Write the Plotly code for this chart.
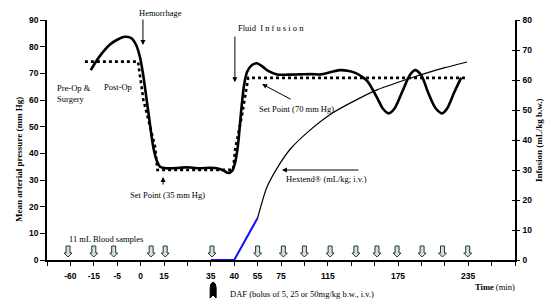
import plotly.graph_objects as go

# ---------------- data (x in tick-slot units; 21 evenly spaced ticks) ----------------
tick_slots = list(range(21))
tick_labels = ["", "-60", "-15", "-5", "0", "15", "", "35", "40", "55", "75", "",
               "115", "", "", "175", "", "", "235", "", ""]

map_x = [1.87, 2.2, 2.69, 3.0, 3.33, 3.6, 3.8, 3.97, 4.1, 4.26, 4.4, 4.54, 4.7, 4.83,
         5.1, 5.6, 6.0, 6.5, 7.0, 7.3, 7.55, 7.74, 7.92, 8.05, 8.16, 8.3, 8.42, 8.55,
         8.75, 8.97, 9.2, 9.45, 9.83, 10.3, 10.8, 11.3, 11.7, 12.1, 12.5, 12.9, 13.2,
         13.45, 13.7, 14.1, 14.35, 14.6, 14.85, 15.2, 15.5, 15.73, 16.0, 16.3, 16.6,
         16.88, 17.1, 17.4, 17.7]
map_y = [71.2, 75.8, 80.8, 82.6, 83.7, 83.2, 80.8, 76.2, 70.0, 60.0, 51.0, 42.4, 37.0, 35.0,
         34.4, 34.5, 34.8, 34.4, 34.6, 34.3, 33.5, 32.6, 33.5, 37.0, 43.0, 56.0, 65.5, 70.5,
         73.0, 73.8, 72.6, 70.9, 69.6, 69.5, 69.6, 69.7, 69.6, 70.4, 71.2, 70.9, 70.1,
         68.8, 67.0, 61.0, 56.8, 55.0, 56.8, 63.5, 69.3, 71.2, 69.2, 62.5, 57.0,
         55.0, 56.8, 62.8, 68.4]

setpoint_x = [1.62, 3.89, 4.12, 4.62, 4.72, 7.95, 8.05, 8.32, 8.6, 17.86]
setpoint_y = [74.4, 74.4, 60.0, 42.4, 33.8, 33.8, 42.0, 53.7, 68.3, 68.3]

hextend_x = [9.0, 9.4, 9.96, 10.4, 11.24, 12.2, 13.2, 14.1, 15.1, 16.0, 17.0, 17.95]
hextend_y = [14.0, 24.3, 32.2, 37.0, 43.3, 49.0, 53.3, 56.7, 59.5, 61.8, 64.1, 66.0]

daf_x = [7.0, 8.0, 9.0]
daf_y = [0.0, 0.0, 14.0]

blood_sample_slots = [0.9, 2.0, 2.85, 4.45, 5.05, 7.05, 9.0, 10.1, 11.0, 12.1,
                      13.2, 14.1, 14.96, 16.03, 16.9, 17.98]
daf_bolus_slot = [7.1]

# ---------------- figure ----------------
W, H = 546, 302
L, R, T, B = 47, 31, 20, 42

def px(x):
    return (x - L) / (W - L - R)

def py(y):
    return (H - B - y) / (H - T - B)

SERIF = "Liberation Serif, Times New Roman, serif"
SANS = "Liberation Sans, Arial, sans-serif"

fig = go.Figure()

fig.add_trace(go.Scatter(x=setpoint_x, y=setpoint_y, mode="lines",
                         line=dict(color="black", width=2.6, dash="dot"),
                         hoverinfo="skip", showlegend=False))
fig.add_trace(go.Scatter(x=map_x, y=map_y, mode="lines",
                         line=dict(color="black", width=2.6, shape="spline", smoothing=0.8),
                         hoverinfo="skip", showlegend=False))
fig.add_trace(go.Scatter(x=hextend_x, y=hextend_y, mode="lines", yaxis="y2",
                         line=dict(color="black", width=1.2, shape="spline", smoothing=0.6),
                         hoverinfo="skip", showlegend=False))
fig.add_trace(go.Scatter(x=daf_x, y=daf_y, mode="lines", yaxis="y2",
                         line=dict(color="#1010ff", width=2),
                         hoverinfo="skip", showlegend=False, cliponaxis=False))
# invisible trace so the inner-tick overlay axis is drawn
fig.add_trace(go.Scatter(x=[0], y=[0], yaxis="y3", mode="markers",
                         marker=dict(opacity=0), hoverinfo="skip", showlegend=False))

shapes = []
arrow_path = "M -2,14 L 2,14 L 2,7 L 4,7 L 0,3 L -4,7 L -2,7 Z"
for s in blood_sample_slots:
    shapes.append(dict(type="path", xref="x", yref="y", xsizemode="pixel", ysizemode="pixel",
                       xanchor=s, yanchor=0, path=arrow_path,
                       fillcolor="#cfe3e3", line=dict(color="#303030", width=1)))
bullet_path = "M -3,-38 L -3,-28 Q -3,-23 0,-22 Q 3,-23 3,-28 L 3,-38 L 0,-35 Z"
for s in daf_bolus_slot:
    shapes.append(dict(type="path", xref="x", yref="paper", xsizemode="pixel", ysizemode="pixel",
                       xanchor=s, yanchor=0, path=bullet_path,
                       fillcolor="black", line=dict(color="black", width=1)))

ann = []
def text(x, y, t, xanchor="left", size=8.5, angle=0, bold=False):
    ann.append(dict(x=px(x), y=py(y), xref="paper", yref="paper", text=t, showarrow=False,
                    xanchor=xanchor, yanchor="middle", textangle=angle,
                    font=dict(family=SERIF, size=size, color="black",
                              weight="bold" if bold else "normal")))

def arrow(x, y, ax, ay, yref="y"):
    ann.append(dict(x=x, y=y, xref="x", yref=yref, ax=ax, ay=ay, text="",
                    showarrow=True, arrowhead=2, arrowsize=1, arrowwidth=1,
                    arrowcolor="black"))

text(160, 13, "Hemorrhage", xanchor="center")
text(236, 28, "Fluid  I n f u s i o n")
text(55, 93, "Pre-Op &<br>Surgery")
ann[-1]["align"] = "left"
text(102, 87, "Post-Op")
text(257, 109, "Set Point (70 mm Hg)")
text(128, 195, "Set Point (35 mm Hg)")
text(284, 179, "Hextend® (mL/kg; i.v.)")
text(67, 239, "11 mL Blood samples")
text(228, 294, "DAF (bolus of 5, 25 or 50mg/kg b.w., i.v.)")
text(473, 287, "<b>Time</b> (min)")
text(19, 160, "Mean arterial pressure (mm Hg)", xanchor="center", size=9, angle=-90, bold=True)
text(539, 140, "Infusion (mL/kg b.w.)", xanchor="center", size=9, angle=-90, bold=True)

arrow(4.1, 80.6, 0, -27)
arrow(8.03, 66.7, 0, -47)
arrow(9.19, 66.0, 30, 16)
arrow(4.96, 31.1, 0, 9)
arrow(10.04, 30.0, 78, 0, yref="y2")

tickfont = dict(family=SANS, size=8.5, color="black", weight="bold")

fig.update_layout(
    width=W, height=H, margin=dict(l=L, r=R, t=T, b=B, pad=0),
    paper_bgcolor="white", plot_bgcolor="white",
    showlegend=False,
    xaxis=dict(range=[0, 20], tickmode="array", tickvals=tick_slots, ticktext=tick_labels,
               showgrid=False, zeroline=False, showline=True, linecolor="black", linewidth=1.5,
               ticks="outside", ticklen=4, tickwidth=1, tickcolor="black",
               tickfont=tickfont, ticklabelstandoff=3),
    yaxis=dict(range=[0, 90], dtick=10, showgrid=False, zeroline=False, showline=True,
               linecolor="black", linewidth=1.5, ticks="outside", ticklen=5, tickwidth=1,
               tickcolor="black", tickfont=tickfont),
    yaxis2=dict(range=[0, 80], dtick=10, overlaying="y", side="right", showgrid=False,
                zeroline=False, showline=True, linecolor="black", linewidth=1.5,
                ticks="outside", ticklen=3, tickwidth=1, tickcolor="black", tickfont=tickfont,
                ticklabelstandoff=1),
    yaxis3=dict(range=[0, 80], dtick=10, overlaying="y", side="right", showgrid=False,
                zeroline=False, showline=False, ticks="inside", ticklen=3, tickwidth=1,
                tickcolor="black", showticklabels=False),
    shapes=shapes, annotations=ann,
)

fig.write_html("out.html", config={"displayModeBar": False},
               post_script="document.body.style.margin='0';document.body.style.overflow='hidden';")
